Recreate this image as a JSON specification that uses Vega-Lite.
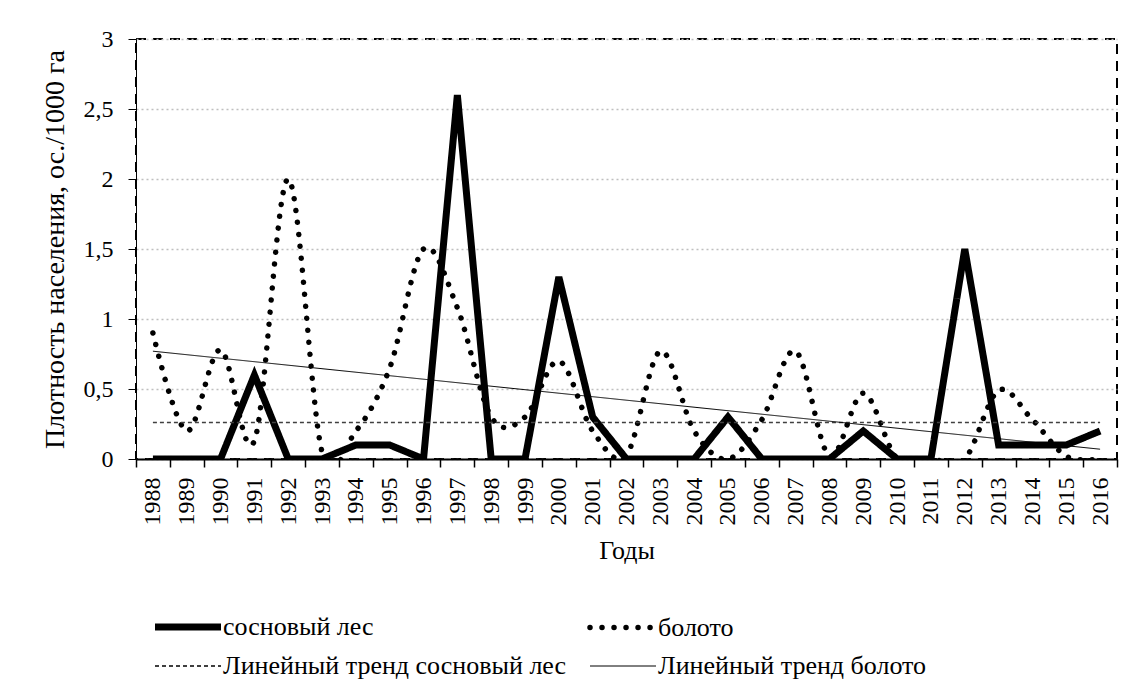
{
  "$schema": "https://vega.github.io/schema/vega-lite/v6.json",
  "width": 981,
  "height": 420,
  "autosize": "none",
  "padding": {"left": 136, "top": 39, "right": 16, "bottom": 239},
  "background": "white",
  "config": {
    "font": "Liberation Serif",
    "view": {"stroke": "black", "strokeDash": [10, 7], "strokeWidth": 2}
  },
  "data": {
    "values": [
      {"year": "1988", "series": "сосновый лес", "value": 0},
      {"year": "1989", "series": "сосновый лес", "value": 0},
      {"year": "1990", "series": "сосновый лес", "value": 0},
      {"year": "1991", "series": "сосновый лес", "value": 0.6},
      {"year": "1992", "series": "сосновый лес", "value": 0},
      {"year": "1993", "series": "сосновый лес", "value": 0},
      {"year": "1994", "series": "сосновый лес", "value": 0.1},
      {"year": "1995", "series": "сосновый лес", "value": 0.1},
      {"year": "1996", "series": "сосновый лес", "value": 0},
      {"year": "1997", "series": "сосновый лес", "value": 2.6},
      {"year": "1998", "series": "сосновый лес", "value": 0},
      {"year": "1999", "series": "сосновый лес", "value": 0},
      {"year": "2000", "series": "сосновый лес", "value": 1.3},
      {"year": "2001", "series": "сосновый лес", "value": 0.3},
      {"year": "2002", "series": "сосновый лес", "value": 0},
      {"year": "2003", "series": "сосновый лес", "value": 0},
      {"year": "2004", "series": "сосновый лес", "value": 0},
      {"year": "2005", "series": "сосновый лес", "value": 0.3},
      {"year": "2006", "series": "сосновый лес", "value": 0},
      {"year": "2007", "series": "сосновый лес", "value": 0},
      {"year": "2008", "series": "сосновый лес", "value": 0},
      {"year": "2009", "series": "сосновый лес", "value": 0.2},
      {"year": "2010", "series": "сосновый лес", "value": 0},
      {"year": "2011", "series": "сосновый лес", "value": 0},
      {"year": "2012", "series": "сосновый лес", "value": 1.5},
      {"year": "2013", "series": "сосновый лес", "value": 0.1},
      {"year": "2014", "series": "сосновый лес", "value": 0.1},
      {"year": "2015", "series": "сосновый лес", "value": 0.1},
      {"year": "2016", "series": "сосновый лес", "value": 0.2},
      {"year": "1988", "series": "болото", "value": 0.9},
      {"year": "1989", "series": "болото", "value": 0.2},
      {"year": "1990", "series": "болото", "value": 0.78},
      {"year": "1991", "series": "болото", "value": 0.13},
      {"year": "1992", "series": "болото", "value": 2.0},
      {"year": "1993", "series": "болото", "value": 0.05},
      {"year": "1994", "series": "болото", "value": 0.2},
      {"year": "1995", "series": "болото", "value": 0.65},
      {"year": "1996", "series": "болото", "value": 1.5},
      {"year": "1997", "series": "болото", "value": 1.08},
      {"year": "1998", "series": "болото", "value": 0.3},
      {"year": "1999", "series": "болото", "value": 0.3},
      {"year": "2000", "series": "болото", "value": 0.7},
      {"year": "2001", "series": "болото", "value": 0.2},
      {"year": "2002", "series": "болото", "value": 0.03},
      {"year": "2003", "series": "болото", "value": 0.77},
      {"year": "2004", "series": "болото", "value": 0.2},
      {"year": "2005", "series": "болото", "value": 0},
      {"year": "2006", "series": "болото", "value": 0.28},
      {"year": "2007", "series": "болото", "value": 0.77},
      {"year": "2008", "series": "болото", "value": 0.02},
      {"year": "2009", "series": "болото", "value": 0.47},
      {"year": "2010", "series": "болото", "value": 0},
      {"year": "2011", "series": "болото", "value": 0},
      {"year": "2012", "series": "болото", "value": 0},
      {"year": "2013", "series": "болото", "value": 0.49},
      {"year": "2014", "series": "болото", "value": 0.28},
      {"year": "2015", "series": "болото", "value": 0.02},
      {"year": "2016", "series": "болото", "value": 0},
      {"year": "1988", "series": "Линейный тренд сосновый лес", "value": 0.26},
      {"year": "2016", "series": "Линейный тренд сосновый лес", "value": 0.26},
      {"year": "1988", "series": "Линейный тренд болото", "value": 0.77},
      {"year": "2016", "series": "Линейный тренд болото", "value": 0.07}
    ]
  },
  "encoding": {
    "x": {
      "field": "year", "type": "ordinal", "bandPosition": 0.5,
      "scale": {"type": "band", "paddingInner": 0, "paddingOuter": 0,
        "domain": ["1988","1989","1990","1991","1992","1993","1994","1995","1996","1997","1998","1999","2000","2001","2002","2003","2004","2005","2006","2007","2008","2009","2010","2011","2012","2013","2014","2015","2016"]},
      "axis": {"title": "Годы", "labelFont": "Liberation Serif", "titleFont": "Liberation Serif", "labelFontSize": 24, "titleFontSize": 26, "titleFontWeight": "normal", "labelColor": "black", "titleColor": "black", "labelAngle": -90, "tickBand": "extent", "domainColor": "black", "domainWidth": 2, "tickColor": "black", "tickWidth": 1.5, "tickSize": 8, "labelPadding": 10, "titlePadding": 12, "grid": false}
    },
    "y": {
      "field": "value", "type": "quantitative",
      "scale": {"domain": [0, 3], "nice": false},
      "axis": {"title": "Плотность  населения, ос./1000 га", "labelFont": "Liberation Serif", "titleFont": "Liberation Serif", "labelFontSize": 24, "titleFontSize": 28, "titleFontWeight": "normal", "labelColor": "black", "titleColor": "black", "values": [0, 0.5, 1, 1.5, 2, 2.5, 3], "labelExpr": "replace(toString(datum.value), '.', ',')", "domainColor": "black", "domainWidth": 1, "tickColor": "black", "tickSize": 8, "labelPadding": 15, "titlePadding": 14, "grid": true, "gridColor": "#bfbfbf", "gridDash": [2, 3], "gridWidth": 1.5}
    },
    "strokeDash": {
      "field": "series", "type": "nominal",
      "scale": {"domain": ["сосновый лес", "Линейный тренд сосновый лес", "болото", "Линейный тренд болото"], "range": [[1, 0], [4, 3], [0.01, 12], [1, 0]]},
      "legend": {
        "title": null, "orient": "none", "legendX": 39, "legendY": 575, "columns": 2, "columnPadding": 12, "rowPadding": 12, "gridAlign": "all",
        "symbolType": "stroke", "symbolSize": 4356, "symbolStrokeColor": "black", "labelFont": "Liberation Serif", "labelFontSize": 26, "labelColor": "black", "labelOffset": 22, "labelLimit": 600,
        "encode": {"symbols": {"update": {
          "size": {"value": 4356},
          "strokeWidth": {"signal": "datum.value === 'сосновый лес' ? 7 : datum.value === 'болото' ? 5.5 : datum.value === 'Линейный тренд сосновый лес' ? 1.5 : 1"},
          "strokeCap": {"signal": "datum.value === 'болото' ? 'round' : 'butt'"},
          "stroke": {"value": "black"}
        }}}
      }
    }
  },
  "layer": [
    {
      "transform": [{"filter": "datum.series === 'сосновый лес'"}],
      "mark": {"type": "line", "color": "black", "strokeWidth": 7, "clip": true}
    },
    {
      "transform": [{"filter": "datum.series === 'болото'"}],
      "mark": {"type": "line", "color": "black", "strokeWidth": 5.5, "strokeCap": "round", "interpolate": "cardinal", "tension": 0, "clip": true}
    },
    {
      "transform": [{"filter": "datum.series === 'Линейный тренд сосновый лес'"}],
      "mark": {"type": "line", "color": "#404040", "strokeWidth": 1.5, "clip": true}
    },
    {
      "transform": [{"filter": "datum.series === 'Линейный тренд болото'"}],
      "mark": {"type": "line", "color": "black", "strokeWidth": 1, "clip": true}
    }
  ]
}
